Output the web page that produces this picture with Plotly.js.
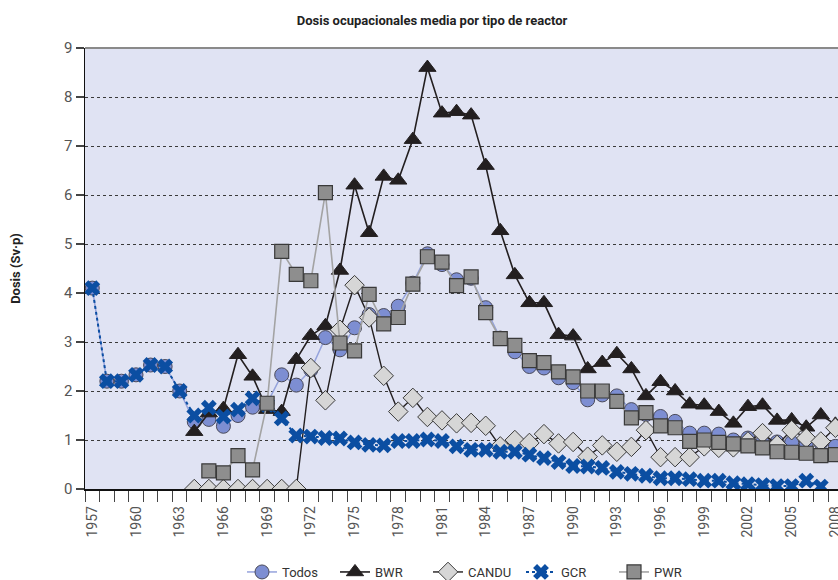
<!DOCTYPE html>
<html>
<head>
<meta charset="utf-8">
<script src="https://cdn.plot.ly/plotly-3.0.1.min.js"></script>
<style>html,body{margin:0;padding:0;background:#fff;}#chart{width:838px;height:580px;}</style>
</head>
<body>
<div id="chart"></div>
<script>
const years = [];
for (let y = 1957; y <= 2008; y++) years.push(y);

const todos = [4.1,2.2,2.2,2.33,2.53,2.5,2.0,1.37,1.42,1.28,1.5,1.67,1.75,2.33,2.12,2.43,3.09,2.84,3.29,3.56,3.54,3.73,4.2,4.8,4.58,4.27,4.3,3.7,3.08,2.8,2.5,2.47,2.27,2.17,1.82,1.92,1.9,1.62,1.52,1.48,1.38,1.14,1.14,1.12,1.0,1.04,0.95,0.96,0.95,0.93,0.94,0.87];
const bwr = [null,null,null,null,null,null,null,1.17,1.55,1.64,2.74,2.3,1.62,1.58,2.64,3.13,3.33,4.46,6.2,5.23,6.38,6.3,7.13,8.6,7.67,7.7,7.63,6.6,5.27,4.37,3.8,3.8,3.15,3.12,2.45,2.58,2.76,2.45,1.9,2.19,2.0,1.73,1.71,1.58,1.34,1.68,1.71,1.4,1.41,1.26,1.51,1.32];
const candu = [null,null,null,null,null,null,null,0,0,0,0,0,0,0,0,2.47,1.81,3.25,4.16,3.5,2.31,1.58,1.86,1.47,1.4,1.34,1.35,1.29,0.87,1.0,0.94,1.12,0.93,0.96,0.66,0.89,0.76,0.86,1.2,0.65,0.65,0.65,0.87,0.84,0.85,0.97,1.14,0.9,1.2,1.04,0.97,1.25];
const gcr = [4.1,2.2,2.2,2.33,2.53,2.5,2.0,1.5,1.66,1.48,1.62,1.85,1.72,1.44,1.09,1.07,1.04,1.03,0.95,0.9,0.89,0.98,0.98,1.01,0.98,0.87,0.8,0.8,0.76,0.76,0.7,0.63,0.55,0.47,0.46,0.43,0.35,0.31,0.27,0.22,0.22,0.2,0.17,0.17,0.12,0.1,0.08,0.06,0.06,0.17,0.05,null];
const pwr = [null,null,null,null,null,null,null,null,0.37,0.33,0.68,0.39,1.75,4.85,4.38,4.25,6.05,2.98,2.82,3.97,3.37,3.5,4.18,4.74,4.63,4.15,4.33,3.6,3.07,2.93,2.62,2.58,2.39,2.29,2.0,2.0,1.79,1.45,1.56,1.29,1.25,0.97,1.0,0.95,0.92,0.88,0.84,0.76,0.75,0.73,0.68,0.7];

const tickYears = [1957,1960,1963,1966,1969,1972,1975,1978,1981,1984,1987,1990,1993,1996,1999,2002,2005,2008];
const yTicks = [0,1,2,3,4,5,6,7,8,9];

const FONT = '"Liberation Sans Narrow", "Roboto", "Liberation Sans", sans-serif';
const edge = '#3a3a3a';

const traces = [
  {name:'Todos', x:years, y:todos, mode:'lines+markers',
   line:{color:'#95a3dc', width:1.5},
   marker:{symbol:'circle', size:14, color:'#7d8ed2', line:{color:'#4a4a5a', width:1}}},
  {name:'BWR', x:years, y:bwr, mode:'lines+markers',
   line:{color:'#231f20', width:1.6},
   marker:{symbol:'triangle-up', size:15, color:'#231f20', line:{color:'#231f20', width:1}}},
  {name:'CANDU', x:years, y:candu, mode:'lines+markers',
   line:{color:'#231f20', width:1.4},
   marker:{symbol:'diamond', size:15, color:'#d6d6d6', line:{color:edge, width:1}}},
  {name:'GCR', x:years, y:gcr, mode:'lines+markers',
   line:{color:'#0b4ea2', width:2, dash:'dot'},
   marker:{symbol:'x', size:14, color:'#0b4ea2', line:{color:'#0b4ea2', width:0}}},
  {name:'PWR', x:years, y:pwr, mode:'lines+markers',
   line:{color:'#a3a3a3', width:1.6},
   marker:{symbol:'square', size:14, color:'#8e8e8e', line:{color:edge, width:1.2}}}
];

const layout = {
  width:838, height:580,
  margin:{l:85, r:0, t:48, b:91, pad:0},
  paper_bgcolor:'#ffffff',
  plot_bgcolor:'#e0e3f3',
  font:{family:FONT, color:'#444', size:13},
  title:{text:'<b>Dosis ocupacionales media por tipo de reactor</b>', font:{family:FONT, size:13, color:'#222'},
         x:432/838, xanchor:'center', xref:'container', y:1-20/580, yanchor:'middle', yref:'container'},
  showlegend:true,
  legend:{orientation:'h', x:242/838, xanchor:'left', xref:'container', y:1-572/580, yanchor:'middle', yref:'container',
          font:{family:FONT, size:13, color:'#333'}, bgcolor:'rgba(0,0,0,0)', itemwidth:30,
          entrywidth:48, entrywidthmode:'pixels'},
  xaxis:{
    type:'linear', range:[1956.5, 2008.18], autorange:false,
    tickmode:'array', tickvals:tickYears, ticktext:tickYears.map(String),
    ticks:'', tickangle:-90, tickfont:{family:FONT, size:14, color:'#555'},
    ticklabeloverflow:'allow',
    showgrid:false, zeroline:false, showline:true, linecolor:'#111', linewidth:1.5,
    minor:{tick0:1956.5, dtick:1, ticks:'outside', ticklen:11, tickcolor:'#444', tickwidth:1, showgrid:false},
    ticklabelstandoff:10
  },
  yaxis:{
    range:[0,9], autorange:false, tickmode:'array', tickvals:yTicks,
    ticks:'outside', ticklen:8, tickcolor:'#444', tickwidth:1.2,
    tickfont:{family:FONT, size:15, color:'#555'},
    showgrid:true, gridcolor:'#3a3a3a', griddash:'dot', gridwidth:1,
    zeroline:false, showline:true, linecolor:'#111', linewidth:1.5,
    title:{text:'<b>Dosis (Sv·p)</b>', font:{family:FONT, size:13, color:'#222'}, standoff:40}
  },
  shapes:[{type:'line', xref:'paper', yref:'paper', x0:0, x1:1, y0:1, y1:1, line:{color:'#8a8a8a', width:2}}]
};

Plotly.newPlot('chart', traces, layout, {displayModeBar:false, staticPlot:true});
</script>
</body>
</html>
